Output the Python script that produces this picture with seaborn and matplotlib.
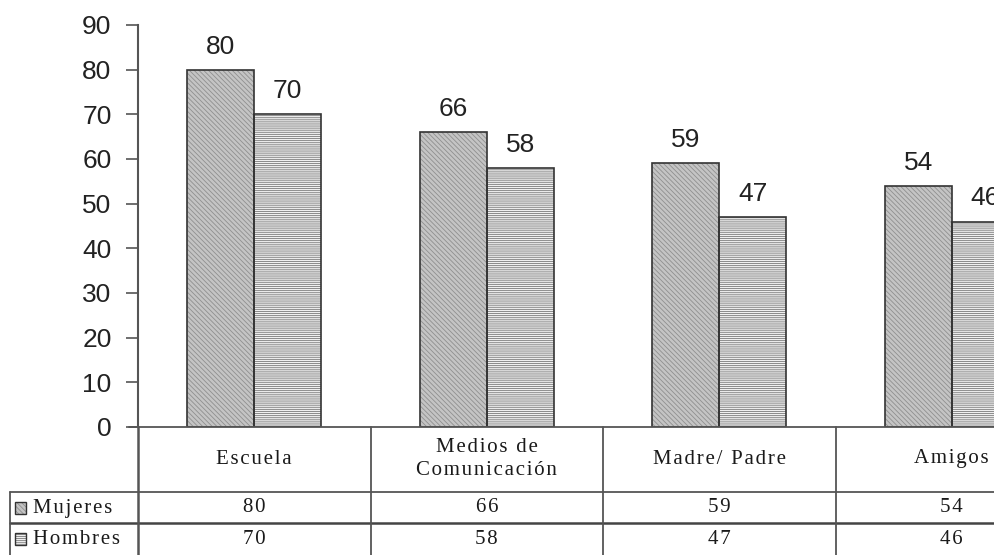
import matplotlib
matplotlib.use("Agg")
import matplotlib.pyplot as plt
import matplotlib.transforms as mtransforms
from matplotlib.lines import Line2D
from matplotlib.patches import Rectangle
import seaborn as sns
import pandas as pd

# Data
categorias = ["Escuela", "Medios de\nComunicación", "Madre/ Padre", "Amigos"]
series = ["Mujeres", "Hombres"]
mujeres = [80, 66, 59, 54]
hombres = [70, 58, 47, 46]
y_ticks = [0, 10, 20, 30, 40, 50, 60, 70, 80, 90]

df = pd.DataFrame({
    "categoria": categorias * 2,
    "sexo": [series[0]] * len(categorias) + [series[1]] * len(categorias),
    "valor": mujeres + hombres,
})

sns.set_theme(style="white")
plt.rcParams["font.family"] = ["Liberation Sans", "DejaVu Sans"]
plt.rcParams["hatch.linewidth"] = 0.6

W, H = 994, 555
fig = plt.figure(figsize=(W / 100, H / 100), dpi=100)

def fx(px):
    return px / W

def fy(py):
    return 1 - py / H

def spaced(s):
    """Letter-spaced text for the table (hair space between glyphs)."""
    return "\n".join("\u200a".join(line) for line in s.split("\n"))

# Axes: x from -0.5 (px 138) to 3.5 (px ~1068), y 0 (px 427) to 90 (px 25)
ax_left, ax_right = 138, 1068
ax_top, ax_bottom = 25, 427
ax = fig.add_axes([fx(ax_left), fy(ax_bottom), fx(ax_right - ax_left),
                   (ax_bottom - ax_top) / H])

styles = {
    "Mujeres": dict(face="#c4c4c4", hatch="\\\\\\\\\\\\\\", hcolor="#8f8f8f"),
    "Hombres": dict(face="#f0f0f0", hatch="--------", hcolor="#7a7a7a"),
}
outline = "#333333"

sns.barplot(data=df, x="categoria", y="valor", hue="sexo", hue_order=series,
            order=categorias, width=0.575, ax=ax, legend=False,
            palette={s: styles[s]["face"] for s in series},
            edgecolor=outline, linewidth=1.2, saturation=1)

for cont, s in zip(ax.containers, series):
    st = styles[s]
    for p in cont.patches:
        # hatch takes the edge colour; draw the dark outline on top separately
        p.set_facecolor(st["face"])
        p.set_hatch(st["hatch"])
        p.set_edgecolor(st["hcolor"])
        p.set_linewidth(0)
        ax.add_patch(Rectangle(p.get_xy(), p.get_width(), p.get_height(),
                               fill=False, edgecolor=outline, linewidth=1.2,
                               zorder=p.get_zorder() + 0.1))
    ax.bar_label(cont, labels=[f"{v:.0f}" for v in cont.datavalues],
                 padding=8, fontsize=19, color="#222222")

ax.set_xlim(-0.5, 3.5)
ax.set_ylim(0, 90)
ax.set_yticks(y_ticks)
ax.set_yticklabels([str(t) for t in y_ticks], fontsize=19, color="#222222")
ax.set_xticks([])
ax.set_xlabel("")
ax.set_ylabel("")
ax.tick_params(axis="y", direction="out", length=9, width=1.2,
               color="#555555", pad=10, left=True)
for side in ["top", "right"]:
    ax.spines[side].set_visible(False)
ax.spines["left"].set_color("#555555")
ax.spines["left"].set_linewidth(1.5)
ax.spines["bottom"].set_visible(False)

# Data table below the plot
line_kw = dict(color="#555555", linewidth=1.3)
fig.add_artist(Line2D([fx(129), 1], [fy(427), fy(427)], transform=fig.transFigure, **line_kw))
fig.add_artist(Line2D([fx(10), 1], [fy(492), fy(492)], transform=fig.transFigure, **line_kw))
fig.add_artist(Line2D([fx(10), 1], [fy(523), fy(523)], transform=fig.transFigure,
                      color="#444444", linewidth=1.8))
fig.add_artist(Line2D([fx(10), fx(10)], [fy(492), 0], transform=fig.transFigure, **line_kw))

blend = mtransforms.blended_transform_factory(ax.transData, fig.transFigure)
fig.add_artist(Line2D([-0.5, -0.5], [fy(427), 0], transform=blend,
                      color="#555555", linewidth=1.8))
for b in [0.5, 1.5, 2.5]:
    fig.add_artist(Line2D([b, b], [fy(427), 0], transform=blend, **line_kw))

serif = ["Liberation Serif", "DejaVu Serif"]
tkw = dict(ha="center", va="center", fontsize=15, family=serif, color="#1a1a1a")
for i, cat in enumerate(categorias):
    fig.text(i, fy(459), spaced(cat), transform=blend, linespacing=1.25, **tkw)
    fig.text(i, fy(508), spaced(str(mujeres[i])), transform=blend, **tkw)
    fig.text(i, fy(539), spaced(str(hombres[i])), transform=blend, **tkw)

# Row labels with pattern keys
for s, yc in zip(series, [508, 539]):
    st = styles[s]
    fig.add_artist(Rectangle((fx(15), fy(yc + 6)), fx(11), 12 / H,
                             transform=fig.transFigure, facecolor=st["face"],
                             edgecolor=st["hcolor"], hatch=st["hatch"], linewidth=0))
    fig.add_artist(Rectangle((fx(15), fy(yc + 6)), fx(11), 12 / H,
                             transform=fig.transFigure, fill=False,
                             edgecolor=outline, linewidth=1.0))
    fig.text(fx(33), fy(yc), spaced(s), ha="left", va="center", fontsize=15,
             family=serif, color="#1a1a1a")

fig.savefig("out.png", dpi=100)
